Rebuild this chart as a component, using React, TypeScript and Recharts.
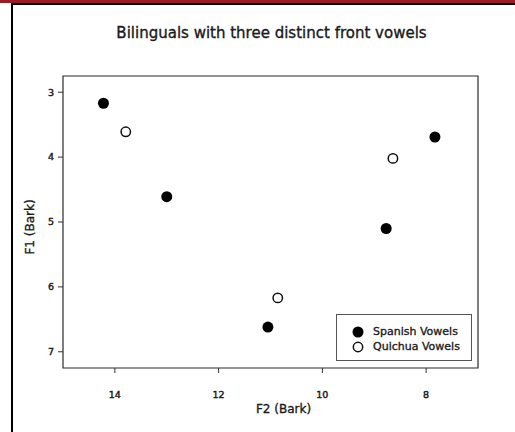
import React from 'react';
import { ScatterChart, Scatter, XAxis, YAxis, ReferenceArea, Legend } from 'recharts';

// F2 / F1 values in Bark
const spanishF2 = [14.22, 13.0, 11.05, 8.77, 7.83];
const spanishF1 = [3.17, 4.61, 6.62, 5.1, 3.69];
const quichuaF2 = [13.79, 10.86, 8.64];
const quichuaF1 = [3.61, 6.17, 4.02];

const seriesNames = ['Spanish Vowels', 'Quichua Vowels'];
const xTicks = [14, 12, 10, 8];
const yTicks = [3, 4, 5, 6, 7];
const xDomain = [7, 15];
const yDomain = [2.75, 7.25];

const spanish = spanishF2.map((x, i) => ({ x, y: spanishF1[i] }));
const quichua = quichuaF2.map((x, i) => ({ x, y: quichuaF1[i] }));

const FONT = '"DejaVu Sans", sans-serif';
const INK = '#1a1a1a';

const FilledDot = (p: any) => <circle cx={p.cx} cy={p.cy} r={5.5} fill="#000" />;
const OpenDot = (p: any) => (
  <circle cx={p.cx} cy={p.cy} r={4.7} fill="#fff" stroke="#111" strokeWidth={1.5} />
);

const LegendBox = ({ payload }: any) => {
  const items = [...(payload || [])].sort(
    (a: any, b: any) => seriesNames.indexOf(a.value) - seriesNames.indexOf(b.value)
  );
  return (
    <div
      style={{
        boxSizing: 'border-box',
        width: 136,
        height: 47,
        border: '1px solid #555',
        background: '#fff',
        paddingTop: 9,
        paddingLeft: 15,
        fontFamily: FONT,
        fontSize: 11,
        color: INK,
        WebkitTextStroke: '0.35px #1a1a1a',
      }}
    >
      {items.map((entry: any) => {
        const filled = entry.color === '#000';
        return (
          <div key={entry.value} style={{ display: 'flex', alignItems: 'center', height: 15.6 }}>
            <svg width={12} height={12} style={{ marginRight: 9 }}>
              {filled ? (
                <circle cx={6} cy={6} r={5.5} fill="#000" />
              ) : (
                <circle cx={6} cy={6} r={4.7} fill="#fff" stroke="#111" strokeWidth={1.5} />
              )}
            </svg>
            <span style={{ lineHeight: '12px' }}>{entry.value}</span>
          </div>
        );
      })}
    </div>
  );
};

const YLabel = (props: any) => {
  const vb = props.viewBox || {};
  const x = vb.x + 34;
  const y = vb.y + vb.height / 2 + 5;
  return (
    <text x={x} y={y} transform={`rotate(-90, ${x}, ${y})`} textAnchor="middle" fontSize={12} fontFamily={FONT} fill={INK} stroke={INK} strokeWidth={0.35}>
      F1 (Bark)
    </text>
  );
};

const XLabel = (props: any) => {
  const vb = props.viewBox || {};
  return (
    <text x={vb.x + vb.width / 2 + 13} y={vb.y + 44.7} textAnchor="middle" fontSize={12} fontFamily={FONT} fill={INK} stroke={INK} strokeWidth={0.35}>
      F2 (Bark)
    </text>
  );
};

const tickStyle = { fontSize: 9.5, fill: INK, fontFamily: FONT, stroke: INK, strokeWidth: 0.45 };

export default function App() {
  return (
    <div style={{ position: 'absolute', left: 0, top: 0, width: 515, height: 432, background: '#fff', overflow: 'hidden' }}>
      <div style={{ position: 'absolute', left: 0, top: 0, width: 515, height: 3, background: '#9c1c26' }} />
      <div style={{ position: 'absolute', left: 11, top: 3, width: 504, height: 2, background: '#000' }} />
      <div style={{ position: 'absolute', left: 11, top: 3, width: 2, height: 429, background: '#000' }} />
      <div
        style={{
          position: 'absolute',
          left: 0,
          top: 25.6,
          width: 543,
          textAlign: 'center',
          fontFamily: FONT,
          fontSize: 15,
          lineHeight: '15px',
          color: INK,
          WebkitTextStroke: '0.35px #1a1a1a',
        }}
      >
        Bilinguals with three distinct front vowels
      </div>
      <ScatterChart width={515} height={432} margin={{ top: 76, right: 37, bottom: 0, left: 0 }}>
        <XAxis
          type="number"
          dataKey="x"
          domain={xDomain}
          ticks={xTicks}
          reversed
          allowDataOverflow
          height={64}
          tick={tickStyle}
          tickSize={5}
          tickMargin={18}
          tickLine={{ stroke: '#333' }}
          axisLine={false}
          label={<XLabel />}
        />
        <YAxis
          type="number"
          dataKey="y"
          domain={yDomain}
          ticks={yTicks}
          reversed
          allowDataOverflow
          width={63}
          tick={tickStyle}
          tickSize={5}
          tickMargin={4}
          tickLine={{ stroke: '#333' }}
          axisLine={false}
          label={<YLabel />}
        />
        <ReferenceArea
          x1={xDomain[1]}
          x2={xDomain[0]}
          y1={yDomain[0]}
          y2={yDomain[1]}
          fill="none"
          fillOpacity={0}
          stroke="#2a2a2a"
          strokeWidth={1.2}
          ifOverflow="visible"
        />
        <Scatter name={seriesNames[0]} data={spanish} fill="#000" shape={FilledDot} isAnimationActive={false} />
        <Scatter name={seriesNames[1]} data={quichua} fill="#fff" shape={OpenDot} isAnimationActive={false} />
        <Legend
          layout="horizontal"
          align="center"
          verticalAlign="middle"
          width={136}
          height={47}
          wrapperStyle={{ left: 336, top: 314 }}
          content={<LegendBox />}
        />
      </ScatterChart>
    </div>
  );
}
